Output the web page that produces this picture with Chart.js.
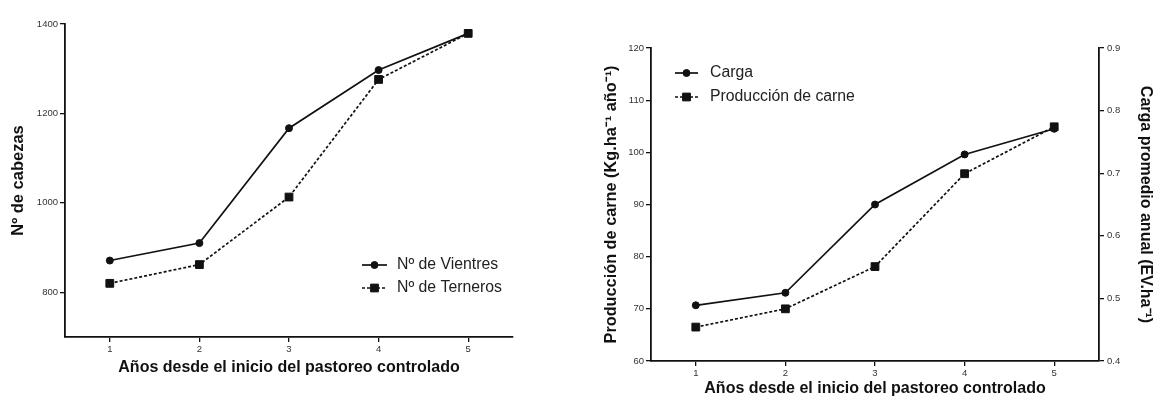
<!DOCTYPE html>
<html><head><meta charset="utf-8">
<script src="https://cdn.jsdelivr.net/npm/chart.js@4.4.1/dist/chart.umd.min.js"></script>
<style>
html,body{margin:0;padding:0;background:#fff;width:1156px;height:397px;overflow:hidden}
.box{position:absolute;top:0;height:397px}
#b1{left:0;width:560px}
#b2{left:560px;width:596px}
</style></head><body>
<div class="box" id="b1"><canvas id="c1"></canvas></div>
<div class="box" id="b2"><canvas id="c2"></canvas></div>
<script>
// ---- data ----
const years = ['1', '2', '3', '4', '5'];
const vientres = [871, 910, 1167, 1297, 1379];
const terneros = [820, 862, 1013, 1276, 1379];
const carga = [0.489, 0.509, 0.650, 0.730, 0.771];
const produccion = [66.5, 70.0, 78.1, 95.9, 104.9];
const ticksCabezas = [800, 1000, 1200, 1400];
const ticksCarne = [60, 70, 80, 90, 100, 110, 120];
const ticksCarga = [0.4, 0.5, 0.6, 0.7, 0.8, 0.9];

const FONT = '"Liberation Sans", Arial, sans-serif';
const INK = '#111';

const insideLegend = {
  id: 'insideLegend',
  afterDraw(chart, args, o) {
    const ctx = chart.ctx;
    ctx.save();
    chart.data.datasets.forEach((ds, i) => {
      const y = o.y + i * o.gap;
      ctx.strokeStyle = ds.borderColor;
      ctx.lineWidth = ds.borderWidth;
      ctx.setLineDash(ds.borderDash || []);
      ctx.beginPath(); ctx.moveTo(o.x, y); ctx.lineTo(o.x + o.len, y); ctx.stroke();
      ctx.setLineDash([]);
      ctx.fillStyle = ds.pointBackgroundColor;
      ctx.lineWidth = 1;
      Chart.helpers.drawPoint(ctx, {pointStyle: ds.pointStyle, radius: ds.pointRadius, rotation: 0, borderWidth: 1}, o.x + o.len / 2, y);
      ctx.fillStyle = '#222';
      ctx.font = o.font;
      ctx.textBaseline = 'middle';
      ctx.textAlign = 'left';
      ctx.fillText(ds.label, o.x + o.len + o.textGap, y);
    });
    ctx.restore();
  }
};

function lineDs(label, data, dashed, axis) {
  return {
    label, data, yAxisID: axis,
    borderColor: INK, backgroundColor: INK,
    pointBackgroundColor: INK, pointBorderColor: INK,
    borderWidth: 1.7,
    borderDash: dashed ? [3, 2] : [],
    pointStyle: dashed ? 'rect' : 'circle',
    pointRadius: dashed ? 5.5 : 3.5,
    pointBorderWidth: 1,
    tension: 0, fill: false
  };
}

function gridOpts() {
  return {display: true, drawOnChartArea: false, drawTicks: true, tickLength: 5, color: INK, lineWidth: 1.3, offset: false};
}
function borderOpts() { return {display: true, color: INK, width: 1.8}; }
function tickFont() { return {family: FONT, size: 9.5}; }
function titleFont(sz) { return {family: FONT, size: sz, weight: 'bold', lineHeight: 1}; }

// ---- left chart ----
new Chart(document.getElementById('c1'), {
  type: 'line',
  data: {
    labels: years,
    datasets: [
      lineDs('Nº de Vientres', vientres, false, 'y'),
      lineDs('Nº de Terneros', terneros, true, 'y')
    ]
  },
  options: {
    responsive: true, maintainAspectRatio: false, animation: false,
    layout: {padding: {left: 0, right: 47, top: 24, bottom: 0}},
    plugins: {
      legend: {display: false}, tooltip: {enabled: false},
      insideLegend: {x: 362, y: 265, gap: 23, len: 25, textGap: 10, font: '15.8px ' + FONT}
    },
    scales: {
      x: {
        type: 'category', offset: true,
        grid: gridOpts(), border: borderOpts(),
        ticks: {font: tickFont(), color: '#333', padding: 2, maxRotation: 0},
        title: {display: true, text: 'Años desde el inicio del pastoreo controlado', font: titleFont(16), color: INK, padding: {top: 0, bottom: 21}},
        afterFit: s => { s.height = 60; }
      },
      y: {
        type: 'linear', min: 700, max: 1400,
        afterBuildTicks: s => { s.ticks = ticksCabezas.map(v => ({value: v})); },
        grid: gridOpts(), border: borderOpts(),
        ticks: {font: tickFont(), color: '#333', padding: 2, callback: v => String(v)},
        title: {display: true, text: 'Nº de cabezas', font: titleFont(16.5), color: INK, padding: {top: 10, bottom: 0}},
        afterFit: s => { s.width = 65; }
      }
    }
  },
  plugins: [insideLegend]
});

// ---- right chart ----
new Chart(document.getElementById('c2'), {
  type: 'line',
  data: {
    labels: years,
    datasets: [
      lineDs('Carga', carga, false, 'y1'),
      lineDs('Producción de carne', produccion, true, 'y')
    ]
  },
  options: {
    responsive: true, maintainAspectRatio: false, animation: false,
    layout: {padding: {left: 0, right: 0, top: 48, bottom: 0}},
    plugins: {
      legend: {display: false}, tooltip: {enabled: false},
      insideLegend: {x: 115, y: 73, gap: 24, len: 23, textGap: 12, font: '15.8px ' + FONT}
    },
    scales: {
      x: {
        type: 'category', offset: true,
        grid: gridOpts(), border: borderOpts(),
        ticks: {font: tickFont(), color: '#333', padding: 2, maxRotation: 0},
        title: {display: true, text: 'Años desde el inicio del pastoreo controlado', font: titleFont(16), color: INK, padding: {top: 0, bottom: 0}},
        afterFit: s => { s.height = 36; }
      },
      y: {
        type: 'linear', position: 'left', min: 60, max: 120,
        afterBuildTicks: s => { s.ticks = ticksCarne.map(v => ({value: v})); },
        grid: gridOpts(), border: borderOpts(),
        ticks: {font: tickFont(), color: '#333', padding: 2, callback: v => String(v)},
        title: {display: true, text: 'Producción de carne (Kg.ha⁻¹ año⁻¹)', font: titleFont(16.3), color: INK, padding: {top: 43, bottom: 0}},
        afterFit: s => { s.width = 91; }
      },
      y1: {
        type: 'linear', position: 'right', min: 0.4, max: 0.9,
        afterBuildTicks: s => { s.ticks = ticksCarga.map(v => ({value: v})); },
        grid: gridOpts(), border: borderOpts(),
        ticks: {font: tickFont(), color: '#333', padding: 3, callback: v => Number(v).toFixed(1)},
        title: {display: true, text: 'Carga promedio anual (EV.ha⁻¹)', font: titleFont(16), color: INK, padding: {top: 3, bottom: 0}},
        afterFit: s => { s.width = 57; }
      }
    }
  },
  plugins: [insideLegend]
});
</script>
</body></html>
